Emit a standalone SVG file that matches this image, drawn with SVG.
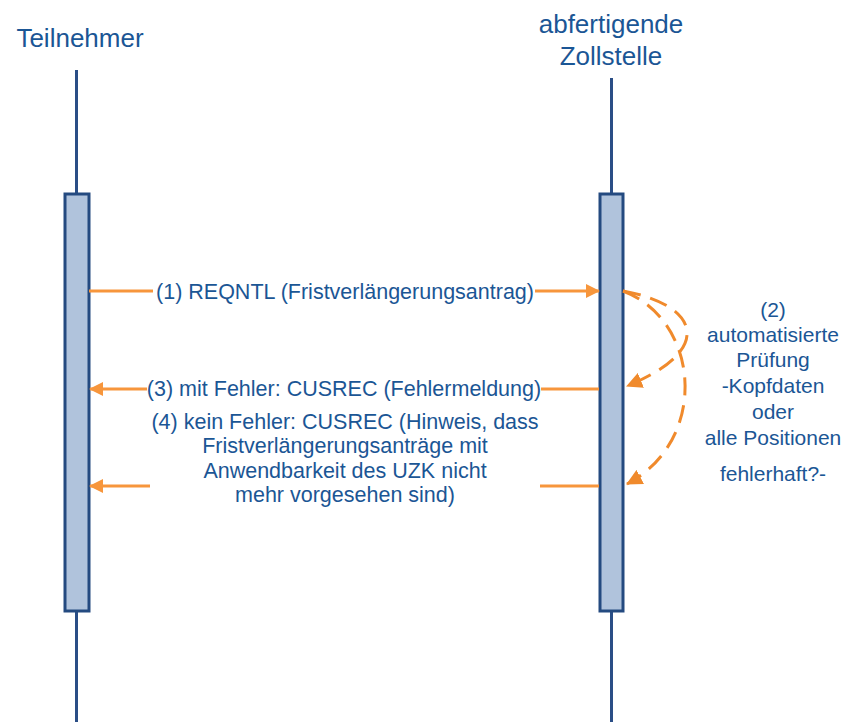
<svg xmlns="http://www.w3.org/2000/svg" width="843" height="722" viewBox="0 0 843 722">
<style>
text{font-family:"Liberation Sans",Arial,sans-serif;fill:#1B5695}
.t{font-size:21.5px}
.r{font-size:21px}
.h{font-size:26px}
.life{stroke:#2A4E86;stroke-width:3;fill:none}
.act{fill:#B0C3DC;stroke:#244A80;stroke-width:3}
.msg{stroke:#F7963C;stroke-width:3;fill:none}
.dash{stroke:#F08A2C;stroke-width:3;fill:none;stroke-dasharray:18 10}
</style>
<defs>
<marker id="ah" markerUnits="userSpaceOnUse" markerWidth="14" markerHeight="14" refX="13" refY="7" orient="auto">
<path d="M0,0 L14,7 L0,14 z" fill="#F7963C"/>
</marker>
<marker id="ah2" markerUnits="userSpaceOnUse" markerWidth="16" markerHeight="16" refX="15" refY="8" orient="auto">
<path d="M0,0 L16,8 L0,16 z" fill="#F08A2C"/>
</marker>
</defs>
<g id="teilnehmer">
<text class="h" x="80" y="47" text-anchor="middle">Teilnehmer</text>
<line class="life" x1="76.5" y1="70" x2="76.5" y2="722"/>
<rect class="act" x="65" y="194" width="24" height="417"/>
</g>
<g id="zollstelle">
<text class="h" x="611" y="33" text-anchor="middle">abfertigende</text>
<text class="h" x="611" y="65" text-anchor="middle">Zollstelle</text>
<line class="life" x1="611.5" y1="78" x2="611.5" y2="722"/>
<rect class="act" x="600" y="194" width="23" height="417"/>
</g>
<g id="connectors">
<line class="msg" x1="89" y1="291" x2="153" y2="291"/>
<line class="msg" x1="535" y1="291" x2="599" y2="291" marker-end="url(#ah)"/>
<text class="t" x="345" y="298.5" text-anchor="middle">(1) REQNTL (Fristverlängerungsantrag)</text>
<line class="msg" x1="599" y1="389" x2="541" y2="389"/>
<line class="msg" x1="147" y1="389" x2="90" y2="389" marker-end="url(#ah)"/>
<text class="t" x="344" y="396" text-anchor="middle">(3) mit Fehler: CUSREC (Fehlermeldung)</text>
<line class="msg" x1="599" y1="486" x2="540" y2="486"/>
<line class="msg" x1="150" y1="486" x2="90" y2="486" marker-end="url(#ah)"/>
<text class="t" x="345" y="428.5" text-anchor="middle">(4) kein Fehler: CUSREC (Hinweis, dass</text>
<text class="t" x="345" y="453" text-anchor="middle">Fristverlängerungsanträge mit</text>
<text class="t" x="345" y="477.5" text-anchor="middle">Anwendbarkeit des UZK nicht</text>
<text class="t" x="345" y="502" text-anchor="middle">mehr vorgesehen sind)</text>
<path class="dash" d="M623,291 C700,305 715,350 627,386" marker-end="url(#ah2)"/>
<path class="dash" d="M623,291 C700,320 710,440 627,484" marker-end="url(#ah2)"/>
</g>
<g id="pruefung">
<text class="r" x="773" y="317" text-anchor="middle">(2)</text>
<text class="r" x="773" y="342" text-anchor="middle">automatisierte</text>
<text class="r" x="773" y="367" text-anchor="middle">Prüfung</text>
<text class="r" x="773" y="393" text-anchor="middle">-Kopfdaten</text>
<text class="r" x="773" y="419" text-anchor="middle">oder</text>
<text class="r" x="773" y="445" text-anchor="middle">alle Positionen</text>
<text class="r" x="773" y="481" text-anchor="middle">fehlerhaft?-</text>
</g>
</svg>
